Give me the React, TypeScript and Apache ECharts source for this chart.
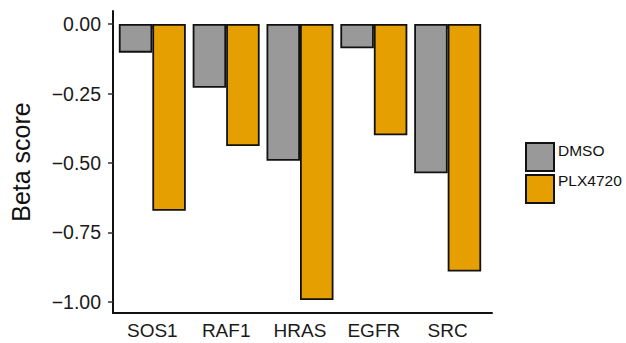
import React, { useEffect, useRef } from "react";
import * as echarts from "echarts";

const categories = ["SOS1", "RAF1", "HRAS", "EGFR", "SRC"];
const dmsoValues = [-0.103, -0.229, -0.492, -0.087, -0.537];
const plxValues = [-0.672, -0.439, -0.993, -0.4, -0.891];
const yTicks = [0, -0.25, -0.5, -0.75, -1.0];
const seriesNames = ["DMSO", "PLX4720"];

const FONT = "Liberation Sans, Arial, Helvetica, sans-serif";
const Y_MIN = -1.04;
const Y_MAX = 0.047;

export default function App() {
  const ref = useRef<HTMLDivElement>(null);
  useEffect(() => {
    if (!ref.current) return;
    const chart = echarts.init(ref.current, undefined, { renderer: "svg" });
    const fmt = (v: number) =>
      v === 0 ? "0.00" : (v < 0 ? "\u2212" : "") + Math.abs(v).toFixed(2);
    const barStyle = (color: string) => ({
      color,
      borderColor: "#111",
      borderWidth: 1.8,
    });
    chart.setOption({
      animation: false,
      backgroundColor: "#fff",
      grid: [
        { left: 115.4, width: 369.2, top: 11, height: 302, containLabel: false },
        { left: 108, width: 384, top: 11, height: 302, containLabel: false },
      ],
      xAxis: [
        {
          type: "category",
          gridIndex: 0,
          data: categories,
          axisLine: { show: false },
          axisTick: {
            show: true,
            alignWithLabel: true,
            length: 5,
            lineStyle: { color: "#333", width: 1.5 },
          },
          axisLabel: {
            color: "#1a1a1a",
            fontSize: 19,
            fontFamily: FONT,
            margin: 8,
          },
        },
        {
          type: "value",
          gridIndex: 1,
          min: 0,
          max: 1,
          axisLine: { show: true, onZero: false, lineStyle: { color: "#111", width: 2 } },
          axisTick: { show: false },
          axisLabel: { show: false },
          splitLine: { show: false },
        },
      ],
      yAxis: [
        {
          type: "value",
          gridIndex: 0,
          min: Y_MIN,
          max: Y_MAX,
          show: false,
          splitLine: { show: false },
        },
        {
          type: "value",
          gridIndex: 1,
          min: Y_MIN,
          max: Y_MAX,
          name: "Beta score",
          nameLocation: "middle",
          nameGap: 80,
          nameRotate: 90,
          nameTextStyle: { color: "#111", fontSize: 25, fontFamily: FONT },
          axisLine: { show: true, onZero: false, lineStyle: { color: "#111", width: 2 } },
          axisTick: {
            show: true,
            length: 5,
            customValues: yTicks,
            lineStyle: { color: "#333", width: 1.5 },
          },
          axisLabel: {
            show: true,
            customValues: yTicks,
            formatter: fmt,
            color: "#1a1a1a",
            fontSize: 19.5,
            fontFamily: FONT,
            margin: 12,
          },
          splitLine: { show: false },
        },
      ],
      legend: {
        orient: "vertical",
        left: 520,
        top: 137,
        itemWidth: 28,
        itemHeight: 28,
        itemGap: 2,
        icon: "rect",
        data: seriesNames,
        formatter: () => "",
        textStyle: { fontSize: 1 },
      },
      graphic: seriesNames.map((n, i) => ({
        type: "text",
        left: 558,
        top: 142 + i * 30,
        style: {
          text: n,
          fill: "#111",
          fontSize: 15.5,
          fontFamily: FONT,
        },
      })),
      series: [
        {
          name: seriesNames[0],
          type: "bar",
          xAxisIndex: 0,
          yAxisIndex: 0,
          data: dmsoValues,
          barWidth: 33.5,
          barGap: "0%",
          itemStyle: barStyle("#999999"),
        },
        {
          name: seriesNames[1],
          type: "bar",
          xAxisIndex: 0,
          yAxisIndex: 0,
          data: plxValues,
          barWidth: 33.5,
          barGap: "0%",
          itemStyle: barStyle("#E69F00"),
        },
      ],
    });
    return () => chart.dispose();
  }, []);
  return (
    <div
      ref={ref}
      style={{ position: "fixed", left: 0, top: 0, width: 626, height: 343 }}
    />
  );
}
